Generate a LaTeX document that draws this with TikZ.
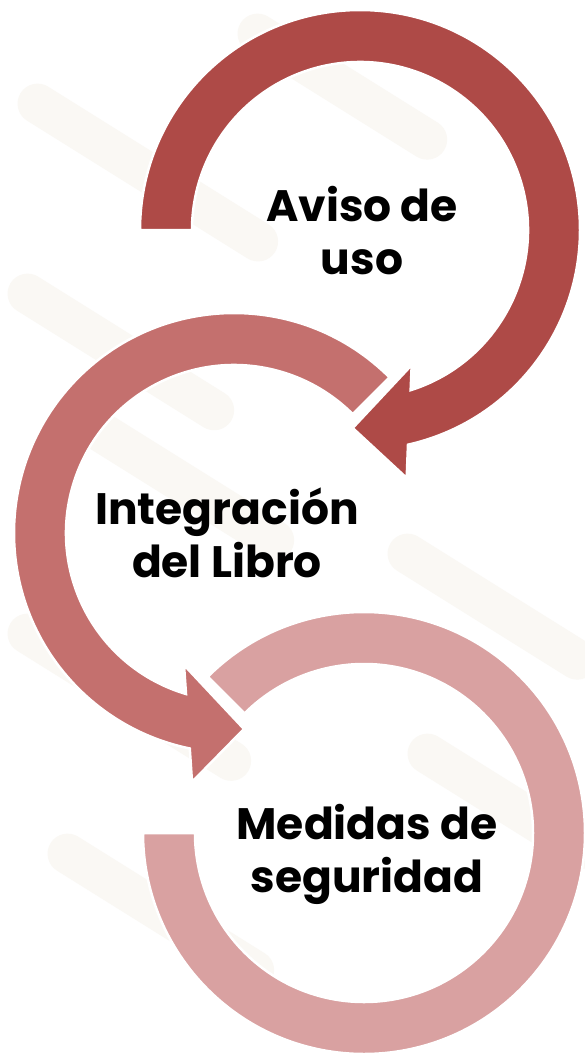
\documentclass[tikz,border=0pt]{standalone}
\usepackage{fontspec}
\setmainfont{Poppins}
\usetikzlibrary{calc}
\definecolor{ringA}{RGB}{174,74,71}
\definecolor{ringB}{RGB}{196,112,110}
\definecolor{ringC}{RGB}{217,161,161}
\definecolor{streak}{RGB}{250,248,244}
\tikzset{
  band/.style={draw=white, line width=2.5pt, line join=miter},
  label/.style={align=center, font=\fontsize{44}{53}\selectfont\bfseries, text=black, inner sep=0pt},
  streakshape/.style={fill=streak, rounded corners=20pt, draw=none}
}
\begin{document}
\begin{tikzpicture}[x=1pt,y=1pt]
\useasboundingbox (0,0) rectangle (585,-1054);
\fill[white] (0,0) rectangle (585,-1054);
% faint background streaks
\foreach \x/\y/\l in {10/-110/300, 0/-300/260, 60/-430/260, 0/-640/280, 40/-860/260, 380/-560/240, 400/-760/220, 230/-40/240}{
  \fill[streakshape, rotate around={-32:(\x,\y)}] (\x,\y) rectangle ++(\l,40);
}
\coordinate (c1) at (360,-230);
\coordinate (c2) at (234,-533);
\coordinate (c3) at (364,-833);
% bottom ring
\fill[ringC, band] ($(c3)+(135:221)$) arc[start angle=135, end angle=-180, radius=221]
  -- ($(c3)+(180:169)$) arc[start angle=-180, end angle=135, radius=169] -- cycle;
% middle arrow
\fill[ringB, band] ($(c2)+(45:220)$) arc[start angle=45, end angle=258.4, radius=220]
  -- (192,-782) -- (244,-729) -- (184,-665)
  -- ($(c2)+(253.4:168)$) arc[start angle=253.4, end angle=45, radius=168] -- cycle;
% top arrow
\fill[ringA, band] ($(c1)+(180:220)$) arc[start angle=180, end angle=-77.4, radius=220]
  -- (406.7,-478) -- (352.7,-428) -- (411.7,-365)
  -- ($(c1)+(-72.45:168)$) arc[start angle=-72.45, end angle=180, radius=168] -- cycle;
\node[label] (aviso) at (362,-231) {Aviso de\\uso};
\node[label] (integ) at (227,-533) {Integración\\del Libro};
\node[label] (medidas) at (367,-854) {Medidas de\\seguridad};
\end{tikzpicture}
\end{document}
